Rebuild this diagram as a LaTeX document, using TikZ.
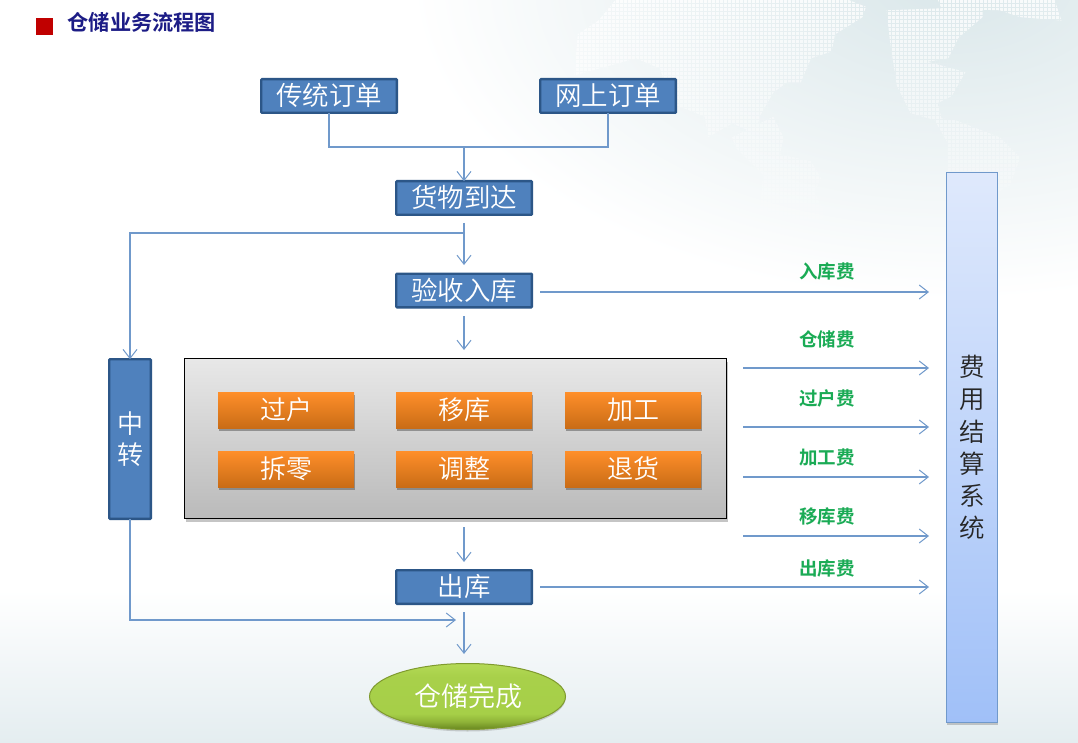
\documentclass[tikz,border=0pt]{standalone}
\usepackage{fontspec}
\usetikzlibrary{arrows.meta,shadows,shapes.geometric}
\setmainfont{Noto Sans CJK SC}[UprightFont=* DemiLight,BoldFont=* Bold]
\definecolor{bluefill}{HTML}{4F81BD}
\definecolor{blueedge}{HTML}{2C5687}
\definecolor{linkblue}{HTML}{7099CB}
\definecolor{feegreen}{HTML}{1AAB55}
\definecolor{titleblue}{HTML}{1C1C86}
\definecolor{bgtint}{HTML}{DAE7EA}
\definecolor{bgbottom}{HTML}{E4EDF0}
\definecolor{orangetop}{HTML}{FF8F2A}
\definecolor{orangebot}{HTML}{C96C16}
\definecolor{greytop}{HTML}{E8E8E8}
\definecolor{greybot}{HTML}{BABABA}
\definecolor{systop}{HTML}{DFE9FC}
\definecolor{sysbot}{HTML}{A0C0F8}
\definecolor{limeedge}{HTML}{7F9A2E}
\definecolor{limea}{HTML}{68861F}
\definecolor{limeb}{HTML}{8FB338}
\definecolor{limec}{HTML}{A6CF48}
\definecolor{limed}{HTML}{A8D04A}
\definecolor{limee}{HTML}{B4DA55}
\pgfdeclareverticalshading{limeshade}{100bp}{
  color(0bp)=(limea);color(25bp)=(limea);color(31bp)=(limeb);color(37bp)=(limec);color(65bp)=(limed);color(75bp)=(limee);color(100bp)=(limee)}
\tikzset{
  flowbox/.style={draw=blueedge,line width=2.4pt,fill=bluefill,rounded corners=0.8pt,text=white,inner sep=0pt,outer sep=0pt,
    minimum width=135.6pt,minimum height=33.6pt,font=\fontsize{26.5}{31}\selectfont,text height=21pt,text depth=2pt},
  tallbox/.style={draw=blueedge,line width=2.4pt,fill=bluefill,rounded corners=0.8pt,text=white,inner sep=0pt,outer sep=0pt,
    minimum width=41.6pt,minimum height=159.6pt,font=\fontsize{26}{31}\selectfont,align=center},
  taskbox/.style={top color=orangetop,bottom color=orangebot,draw=none,inner sep=0pt,outer sep=0pt,
    minimum width=136pt,minimum height=36pt,text=white,font=\fontsize{26}{30}\selectfont,text height=21pt,text depth=2pt,
    drop shadow={shadow xshift=0.5pt,shadow yshift=-2.5pt,fill=black!60,opacity=.6}},
  panel/.style={draw=black,line width=1.3pt,top color=greytop,bottom color=greybot,inner sep=0pt,outer sep=0pt,
    minimum width=542pt,minimum height=160pt,
    drop shadow={shadow xshift=1pt,shadow yshift=-3pt,fill=black!50,opacity=.45}},
  sysbox/.style={draw=linkblue,line width=1.5pt,top color=systop,bottom color=sysbot,inner sep=0pt,outer sep=0pt,
    minimum width=51pt,minimum height=550pt,font=\fontsize{25.5}{32.2}\selectfont,align=center,text=black!85,
    drop shadow={shadow xshift=0.5pt,shadow yshift=-2pt,fill=black!50,opacity=.4}},
  endstate/.style={ellipse,draw=limeedge,line width=1pt,shading=limeshade,inner sep=0pt,outer sep=0pt,
    minimum width=196pt,minimum height=66pt,text=white,font=\fontsize{27}{32}\selectfont,text height=22pt,text depth=2pt,
    drop shadow={shadow xshift=0pt,shadow yshift=-2pt,fill=black!50,opacity=.35}},
  feelabel/.style={text=feegreen,inner sep=0pt,font=\bfseries\fontsize{18.5}{20}\selectfont,text height=15pt,text depth=1.5pt},
  link/.style={draw=linkblue,line width=1.1pt},
  linkarrow/.style={link,-{Straight Barb[length=9pt,width=14pt,line width=1pt]}},
}
\begin{document}
\begin{tikzpicture}[x=1pt,y=-1pt]
\useasboundingbox (0,0) rectangle (1078,743);
% background
\fill[white] (0,0) rectangle (1078,743);
\begin{scope}
  \clip (0,0) rectangle (1078,743);
  \shade[inner color=bgtint,outer color=white] (950,-20) ellipse (540 and 320);
  \shade[top color=white,bottom color=bgbottom,draw=none] (0,590) rectangle (1078,743);
  % dotted world map
  \begin{scope}[x=.3431pt,y=-.3431pt,shift={(540pt,0pt)}]
    \clip (220,0)--(900,0)--(950,20)--(940,50)--(860,100)--(850,150)--(790,170)--(760,240)--(720,240)--(680,270)--(640,340)--(630,390)--(560,360)--(490,400)--(480,340)--(380,300)--(350,200)--(280,170)--(100,220)--(110,100)--(170,60)--cycle
      (560,400)--(680,340)--(710,400)--(700,450)--(790,470)--(820,520)--(800,560)--(830,620)--(800,700)--(720,710)--(640,620)--(650,510)--(570,430)--cycle
      (1010,30)--(1290,20)--(1290,50)--(1220,110)--(1190,170)--(1130,180)--(1240,210)--(1200,280)--(1160,300)--(1170,345)--(1210,350)--(1340,400)--(1400,460)--(1370,540)--(1335,560)--(1185,510)--(1190,420)--(1150,350)--(1080,330)--(1040,250)--(1020,120)--cycle
      (1160,0)--(1500,0)--(1520,60)--(1400,50)--(1340,30)--(1170,25)--cycle;
    \foreach \r in {0,1,...,62}{
      \pgfmathsetmacro\op{max(0.05,0.8-\r/80)}
      \pgfmathsetmacro\yy{4*\r+1.5}
      \foreach \k in {0,40,...,520}{
        \pgfmathsetmacro\xe{\k+40}
        \draw[white,opacity=\op,line width=3pt,dash pattern=on 3pt off 1pt] (\k pt,-\yy pt) -- (\xe pt,-\yy pt);
      }
    }
  \end{scope}
\end{scope}
% title
\node[fill={rgb,255:red,192;green,0;blue,0},minimum size=17pt,inner sep=0pt] (mark) at (44.5,26.5) {};
\node[anchor=west,inner sep=0pt,text=titleblue,font=\bfseries\fontsize{21.2}{24}\selectfont] (title) at (67.5,22) {仓储业务流程图};
% flow nodes
\node[flowbox] (chuan) at (329,96) {传统订单};
\node[flowbox] (wang) at (608,96) {网上订单};
\node[flowbox] (huo) at (464,198) {货物到达};
\node[flowbox] (yan) at (464,290.5) {验收入库};
\node[tallbox] (zhong) at (130,439) {中\\转};
\node[panel] (work) at (455.5,438.5) {};
\node[taskbox] (t1) at (286,410) {过户};
\node[taskbox] (t2) at (464,410) {移库};
\node[taskbox] (t3) at (633,410) {加工};
\node[taskbox] (t4) at (286,469) {拆零};
\node[taskbox] (t5) at (464,469) {调整};
\node[taskbox] (t6) at (633,469) {退货};
\node[flowbox] (chu) at (464,587) {出库};
\node[endstate] (wan) at (467.5,696.5) {\hspace{1.5pt}仓储完成};
\node[sysbox] (sys) at (972,447.5) {费\\用\\结\\算\\系\\统};
% free connector ends
\coordinate (merge) at (464,147);
\coordinate (huoOut) at (464,223);
\coordinate (branch) at (464,233);
\coordinate (yanIn) at (464,265);
\coordinate (yanOut) at (464,316);
\coordinate (workIn) at (464,350);
\coordinate (workOut) at (464,527);
\coordinate (chuIn) at (464,562);
\coordinate (zhongEnd) at (456,620);
\coordinate (chuOut) at (464,612);
\coordinate (wanIn) at (464,654);
\coordinate (f1a) at (540,292); \coordinate (f1b) at (929,292);
\coordinate (f2a) at (743,368); \coordinate (f2b) at (929,368);
\coordinate (f3a) at (743,427); \coordinate (f3b) at (929,427);
\coordinate (f4a) at (743,477); \coordinate (f4b) at (929,477);
\coordinate (f5a) at (743,536); \coordinate (f5b) at (929,536);
\coordinate (f6a) at (540,587); \coordinate (f6b) at (929,587);
% connectors
\draw[link] (chuan.south) |- (merge) -| (wang.south);
\draw[linkarrow] (merge) -- (huo.north);
\draw[linkarrow] (huoOut) -- (yanIn);
\draw[linkarrow] (branch) -| (zhong.north);
\draw[linkarrow] (yanOut) -- (workIn);
\draw[linkarrow] (workOut) -- (chuIn);
\draw[linkarrow] (zhong.south) |- (zhongEnd);
\draw[linkarrow] (chuOut) -- (wanIn);
\draw[linkarrow] (f1a) -- (f1b);
\draw[linkarrow] (f2a) -- (f2b);
\draw[linkarrow] (f3a) -- (f3b);
\draw[linkarrow] (f4a) -- (f4b);
\draw[linkarrow] (f5a) -- (f5b);
\draw[linkarrow] (f6a) -- (f6b);
% fee labels
\node[feelabel] (l1) at (827,272) {入库费};
\node[feelabel] (l2) at (827,340) {仓储费};
\node[feelabel] (l3) at (827,399) {过户费};
\node[feelabel] (l4) at (827,458) {加工费};
\node[feelabel] (l5) at (827,517) {移库费};
\node[feelabel] (l6) at (827,569) {出库费};
\end{tikzpicture}
\end{document}
